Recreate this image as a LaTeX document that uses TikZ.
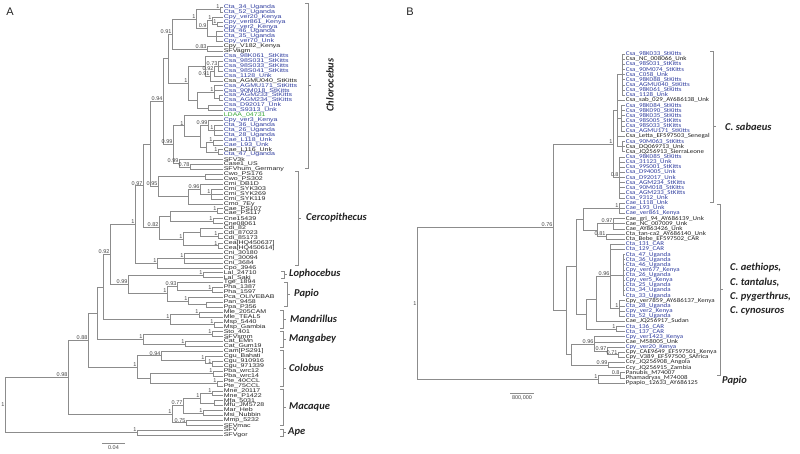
\documentclass[tikz,border=0pt]{standalone}
\usepackage{fontspec}
\setmainfont{Liberation Sans}
\newfontfamily\carl{Carlito}
\definecolor{cb}{RGB}{48,62,160}
\definecolor{ck}{RGB}{35,35,35}
\definecolor{cg}{RGB}{60,170,60}
\definecolor{ln}{RGB}{140,140,140}
\definecolor{sl}{RGB}{70,70,70}
\newcommand\ed[2]{\foreach \q in {#2}{\draw[br] (#1) |- (\q);}}
\newcommand\sv[2]{\node[sup] (s-#1) at (#1) {#2};}
\newcommand\brk[4]{\draw[bk] (#2-3,#3) -- (#2,#3) -- (#2,#4) -- (#2-3,#4);
  \draw[bk] (#2,{(#3+#4)/2}) -- (#2+3,{(#3+#4)/2});}
\begin{document}
\begin{tikzpicture}[x=1pt,y=-1pt,
  declare function={ya(\n)=7+(\n-1)*4.92; yb(\n)=54+(\n-1)*5.14;},
  br/.style={draw=ln,line width=0.5pt},
  bk/.style={draw=ln,line width=0.6pt},
  leafA/.style={anchor=west,inner sep=0.6pt,font=\fontsize{5.4}{5.4}\selectfont},
  leafB/.style={anchor=west,inner sep=0.6pt,font=\carl\fontsize{5.9}{5.9}\selectfont},
  sup/.style={anchor=south east,inner sep=0.4pt,text=sl,font=\fontsize{5.5}{5.5}\selectfont},
  clade/.style={anchor=west,inner sep=0pt,text=ck,font=\carl\bfseries\itshape\fontsize{10.5}{14.3}\selectfont},
  ttl/.style={inner sep=0pt,text=ck,font=\fontsize{11}{11}\selectfont}]
\useasboundingbox (0,0) rectangle (800,454);
\fill[white] (0,0) rectangle (800,454);
% ---------------- Panel A leaves ----------------
\foreach \col/\lab [count=\i] in {cb/Cta\_34\_Uganda,cb/Cta\_52\_Uganda,cb/Cpy\_ver20\_Kenya,cb/Cpy\_ver861\_Kenya,cb/Cpy\_ver2\_Kenya,cb/Cta\_46\_Uganda,cb/Cta\_35\_Uganda,cb/Cpy\_ver70\_Unk,ck/Cpy\_V182\_Kenya,ck/SFVagm,
cb/Csa\_98K061\_StKitts,cb/Csa\_98S031\_StKitts,cb/Csa\_98S033\_StKitts,cb/Csa\_98S041\_StKitts,cb/Csa\_1128\_Unk,ck/Csa\_AGMU040\_StKitts,cb/Csa\_AGMU171\_StKitts,cb/Csa\_90M018\_StKitts,cb/Csa\_AGM233\_StKitts,cb/Csa\_AGM234\_StKitts,
cb/Csa\_D92017\_Unk,cb/Csa\_S9313\_Unk,cg/LDAA\_04731,cb/Cpy\_ver3\_Kenya,cb/Cta\_36\_Uganda,cb/Cta\_26\_Uganda,cb/Cta\_28\_Uganda,cb/Cae\_L118\_Unk,cb/Cae\_L93\_Unk,ck/Cae\_L116\_Unk,
cb/Cta\_47\_Uganda,ck/SFV3k,ck/Case1\_US,ck/SFVhum\_Germany,ck/Cwo\_PS176,ck/Cwo\_PS302,ck/Cmi\_DB1D,ck/Cmi\_SYK303,ck/Cmi\_SYK269,ck/Cmi\_SYK119,
ck/Cmo\_7Ey,ck/Cae\_PS107,ck/Cae\_PS117,ck/Cne15439,ck/Cne08061,ck/Cdi\_82,ck/Cdi\_87023,ck/Cdi\_85173,ck/{Cea[HQ450637]},ck/{Cea[HQ450614]},
ck/Cni\_30180,ck/Cni\_30094,ck/Cni\_3684,ck/Cpo\_3946,ck/Lal\_24710,ck/Lal\_Saki,ck/Tge\_1894,ck/Pha\_1387,ck/Pha\_1597,ck/Pca\_OLIVEBAB,
ck/Pan\_9458,ck/Ppa\_P356,ck/Mle\_205CAM,ck/Mle\_TEAL5,ck/Msp\_5440,ck/Msp\_Gambia,ck/Sto\_401,ck/SFVsmm,ck/Cat\_EMn,ck/Cat\_Gum19,
ck/{Cam[PS291]},ck/Cgu\_Bahati,ck/Cgu\_910916,ck/Cgu\_971339,ck/Pba\_wrc12,ck/Pba\_wrc14,ck/Pte\_40CCL,ck/Pte\_75CCL,ck/Mne\_20117,ck/Mne\_P1422,
ck/Mfa\_5031,ck/Mfu\_JM5728,ck/Mar\_Heb,ck/Msi\_Nubbin,ck/Mmp\_5232,ck/SFVmac,ck/SFV,ck/SFVgor}
{\coordinate (a\i) at (223,{ya(\i)}); \node[leafA,text=\col] (la\i) at (a\i) {\scalebox{1.3}[1]{\lab}};}
% ---------------- Panel A internal nodes ----------------
\foreach \nm/\xx/\ii in {rootA/5/81.86,N098/68/76.22,Ape/137/87.5,N088/88/68.69,Mac/172/83.75,N077/183/82,M1/200/80.5,M1a/212/79.5,M1b/214/81.5,M2/203/83.5,
N075/186/85.5,P/97/63.19,Col/137/74.19,N094/161/71.875,Cgu/205/72.75,CguB/212/73.5,Col2/150/76.5,Pba/213/75.5,Pte/217/77.5,Q/103/57.885,
Mang/143/68.5,MgA/212/67.5,MgB/185/69.5,N092/110/51.27,Mand/170/64.5,MleN/199/63.5,MspN/214/65.5,S/135/45.165,N099/128/57.375,Lopho/203/55.5,
Pap/167/59.25,N093/177/57.75,PhaN/212/58.5,PcaN/188/60.75,PanN/206/61.5,N097/143/37.33,CniN/157/53,CniA/184/52,K/150/28.85,N082/159/45.8125,
N082a/170/43.5,CaeN/217/42.5,CneN/213/44.5,CdiN/183/48.125,CdiA/200/46.75,CdiB/218/47.5,CeaN/218/49.5,Chl/163/20.195,N095/158/37.5,CwoN/205/35.5,
CmiN/188/39.5,CmiA/200/38,CmiB/211/39,ChA/168/11.453,ChA1/172/6.46875,N083/207/9.5,G1/196/3.4375,G1a/220/1.5,G1c/207/5.375,G1d/212/3.75,
G1d2/217/4.5,G1e/216/7,G2/188/16.4375,G2top/205/13,G2a/210/15,G2c/214/14,G2d/218/13,G2b/197/19.875,G2e/214/18.25,G2g/219/19.5,
G2f/208/21.5,ChB/173/28.9375,ChB1/184/25.125,G3/200/27.25,G3a/208/25,G3c/214/26,G3b/206/29.5,G3d/213/28.5,G3e/218/30.5,ChB2/179/32.75,ChB3/190/33.5}
{\coordinate (\nm) at (\xx,{ya(\ii)});}
% ---------------- Panel A edges ----------------
\ed{rootA}{N098,Ape}\ed{Ape}{a87,a88}\ed{N098}{N088,Mac}\ed{Mac}{N077,N075}\ed{N077}{M1,M2}
\ed{M1}{M1a,M1b}\ed{M1a}{a79,a80}\ed{M1b}{a81,a82}\ed{M2}{a83,a84}\ed{N075}{a85,a86}
\ed{N088}{P,Col}\ed{Col}{N094,Col2}\ed{N094}{a71,Cgu}\ed{Cgu}{a72,CguB}\ed{CguB}{a73,a74}
\ed{Col2}{Pba,Pte}\ed{Pba}{a75,a76}\ed{Pte}{a77,a78}\ed{P}{Q,Mang}\ed{Mang}{MgA,MgB}
\ed{MgA}{a67,a68}\ed{MgB}{a69,a70}\ed{Q}{N092,Mand}\ed{Mand}{MleN,MspN}\ed{MleN}{a63,a64}
\ed{MspN}{a65,a66}\ed{N092}{S,N099}\ed{N099}{Lopho,Pap}\ed{Lopho}{a55,a56}\ed{Pap}{N093,PcaN}
\ed{N093}{a57,PhaN}\ed{PhaN}{a58,a59}\ed{PcaN}{a60,PanN}\ed{PanN}{a61,a62}\ed{S}{N097,CniN}
\ed{CniN}{CniA,a54}\ed{CniA}{a51,a52,a53}\ed{N097}{K,N082}\ed{N082}{N082a,CdiN}\ed{N082a}{CaeN,CneN}
\ed{CaeN}{a42,a43}\ed{CneN}{a44,a45}\ed{CdiN}{CdiA,CeaN}\ed{CdiA}{a46,CdiB}\ed{CdiB}{a47,a48}
\ed{CeaN}{a49,a50}\ed{K}{Chl,N095}\ed{N095}{CwoN,CmiN}\ed{CwoN}{a35,a36}\ed{CmiN}{CmiA,a41}
\ed{CmiA}{a37,CmiB}\ed{CmiB}{a38,a39,a40}\ed{Chl}{ChA,ChB}\ed{ChA}{ChA1,G2}\ed{ChA1}{G1,N083}
\ed{N083}{a9,a10}\ed{G1}{G1a,G1c}\ed{G1a}{a1,a2}\ed{G1c}{G1d,G1e}\ed{G1d}{a3,G1d2}
\ed{G1d2}{a4,a5}\ed{G1e}{a6,a7,a8}\ed{G2}{G2top,G2b}\ed{G2top}{a11,G2a}\ed{G2a}{G2c,a16}
\ed{G2c}{G2d,a15}\ed{G2d}{a12,a13,a14}\ed{G2b}{G2e,G2f}\ed{G2e}{a17,a18,G2g}\ed{G2g}{a19,a20}
\ed{G2f}{a21,a22}\ed{ChB}{ChB1,ChB2}\ed{ChB1}{a23,G3}\ed{G3}{G3a,G3b}\ed{G3a}{a24,G3c}
\ed{G3c}{a25,a26,a27}\ed{G3b}{G3d,G3e}\ed{G3d}{a28,a29}\ed{G3e}{a30,a31}\ed{ChB2}{a32,ChB3}\ed{ChB3}{a33,a34}
% ---------------- Panel A support values ----------------
\node[sup,anchor=east] (s-rootA) at (rootA) {1};
\sv{N098}{0.98}\sv{N088}{0.88}\sv{N092}{0.92}\sv{S}{1}\sv{N097}{0.97}\sv{Chl}{0.94}\sv{ChA1}{0.91}
\sv{G1}{1}\sv{G1c}{0.9}\sv{G1d}{1}\sv{G1d2}{1}\sv{G1a}{1}\sv{N083}{0.83}\sv{G2}{1}\sv{G2d}{0.73}
\sv{G2c}{0.92}\sv{G2a}{0.91}\sv{G2e}{1}\sv{G3a}{0.99}\sv{G3c}{1}\sv{G3d}{1}\sv{G3e}{1}\sv{ChB}{0.99}
\sv{ChB1}{1}\sv{ChB2}{0.99}\sv{ChB3}{0.78}\sv{N095}{0.95}\sv{CmiA}{0.96}\sv{CmiB}{1}\sv{CaeN}{1}
\sv{CneN}{1}\sv{N082}{0.82}\sv{CdiN}{1}\sv{CdiB}{1}\sv{CeaN}{1}\sv{CniN}{1}\sv{CniA}{1}\sv{N099}{0.99}
\sv{Lopho}{1}\sv{Pap}{1}\sv{N093}{0.93}\sv{PhaN}{1}\sv{PcaN}{1}\sv{Mand}{1}\sv{MleN}{1}\sv{MspN}{1}
\sv{Mang}{1}\sv{MgA}{1}\sv{MgB}{1}\sv{Col}{1}\sv{N094}{0.94}\sv{Cgu}{1}\sv{CguB}{1}\sv{Pba}{1}\sv{Pte}{1}
\sv{Mac}{1}\sv{N077}{0.77}\sv{N075}{0.75}\sv{M1}{1}\sv{M1a}{1}\sv{M2}{1}\sv{Ape}{1}
% ---------------- Panel A scale and clades ----------------
\coordinate (sa1) at (102,443); \coordinate (sa2) at (125,443);
\draw[br] (sa1) -- (sa2);
\node[sup,anchor=north] (sA) at (113.5,445) {0.04};
\node[ttl] (tA) at (10,12) {A};
\brk{kChl}{308}{3}{168}
\node[clade,anchor=center,rotate=90] (cChl) at (330,85) {Chlorocebus};
\brk{kCer}{298}{171}{265}
\node[clade] (cCer) at (306,218) {Cercopithecus};
\brk{kLop}{284}{271}{278}
\node[clade] (cLop) at (289,274) {Lophocebus};
\brk{kPap}{287}{282}{306}
\node[clade] (cPap) at (294,294) {Papio};
\brk{kMan}{283}{310}{328}
\node[clade] (cMan) at (290,319) {Mandrillus};
\brk{kMgb}{283}{331}{347}
\node[clade] (cMgb) at (289,339) {Mangabey};
\brk{kCol}{283}{350}{386}
\node[clade] (cCol) at (289,368) {Colobus};
\brk{kMac}{283}{389}{425}
\node[clade] (cMac) at (289,407) {Macaque};
\brk{kApe}{283}{429}{436}
\node[clade] (cApe) at (288,432) {Ape};
% ---------------- Panel B leaves ----------------
\foreach \col/\lab [count=\i] in {cb/Csa\_98K033\_StKitts,ck/Csa\_NC\_008066\_Unk,cb/Csa\_98S031\_StKitts,cb/Csa\_90M074\_StKitts,cb/Csa\_C058\_Unk,cb/Csa\_98K088\_StKitts,cb/Csa\_AGMU040\_StKitts,cb/Csa\_98K061\_StKitts,cb/Csa\_1128\_Unk,ck/Csa\_sab\_029\_AY686138\_Unk,
cb/Csa\_98K084\_StKitts,cb/Csa\_98K090\_StKitts,cb/Csa\_98K035\_StKitts,cb/Csa\_98S005\_StKitts,cb/Csa\_98S033\_StKitts,cb/Csa\_AGMU171\_StKitts,ck/Csa\_Letta\_EF597503\_Senegal,cb/Csa\_90M063\_StKitts,ck/Csa\_DQ069713\_Unk,ck/Csa\_JQ256913\_SierraLeone,
cb/Csa\_98K085\_StKitts,cb/Csa\_31123\_Unk,cb/Csa\_99S001\_StKitts,cb/Csa\_D94005\_Unk,cb/Csa\_D92017\_Unk,cb/Csa\_AGM234\_StKitts,cb/Csa\_90M018\_StKitts,cb/Csa\_AGM233\_StKitts,cb/Csa\_9312\_Unk,cb/Cae\_L118\_Unk,
cb/Cae\_L93\_Unk,cb/Cae\_ver861\_Kenya,ck/Cae\_gri\_94\_AY686139\_Unk,ck/Cae\_NC\_007009\_Unk,ck/Cae\_AY863426\_Unk,ck/Cta\_tan-ca2\_AY686140\_Unk,ck/Cta\_Bebe\_EF597502\_CAR,cb/Cta\_131\_CAR,cb/Cta\_129\_CAR,cb/Cta\_47\_Uganda,
cb/Cta\_36\_Uganda,cb/Cta\_46\_Uganda,cb/Cpy\_ver677\_Kenya,cb/Cta\_26\_Uganda,cb/Cpy\_ver5\_Kenya,cb/Cta\_25\_Uganda,cb/Cta\_34\_Uganda,cb/Cta\_33\_Uganda,ck/Cpy\_ver7859\_AY686137\_Kenya,cb/Cta\_28\_Uganda,
cb/Cpy\_ver2\_Kenya,cb/Cta\_52\_Uganda,ck/Cae\_JQ256917\_Sudan,cb/Cta\_136\_CAR,cb/Cta\_137\_CAR,cb/Cpy\_ver1423\_Kenya,ck/Cae\_M58005\_Unk,cb/Cpy\_ver20\_Kenya,ck/Cpy\_CAE9649\_EF597501\_Kenya,ck/Cpy\_V389\_EF597500\_SAfrica,
ck/Ccy\_JQ256908\_Angola,ck/Ccy\_JQ256915\_Zambia,ck/Panubis\_M74007,ck/Phamadryas\_M74008,ck/Ppapio\_12633\_AY686125}
{\coordinate (b\i) at (625,{yb(\i)}); \node[leafB,text=\col] (lb\i) at (b\i) {\scalebox{1.18}[1]{\lab}};}
% ---------------- Panel B internal nodes ----------------
\foreach \nm/\xx/\ii in {RB/417/49.47,N076/553/34.70,PapB/598/64.25,N08p/620/63.5,SAB/613/18.5,SA1/617/12,SA1a/622/5,SA1b/621/13.5,SA1c/622/19,SA2/619/25,
AET/566/50.89,X1/576/42.34,X1a/583/33.125,C1/619/31,X1c/597/35.25,C2/613/34,C3/606/36.5,X1b/586/51.56,C4p/596/48.625,C4/610/44.25,
C4a/623/44,C4b/619/50.5,C6/616/54.5,X2/571/59.44,N096b/594/57.375,N097b/607/58.75,N071/618/59.5,N099b/608/61.5}
{\coordinate (\nm) at (\xx,{yb(\ii)});}
% ---------------- Panel B edges ----------------
\ed{RB}{N076,PapB}\ed{PapB}{N08p,b65}\ed{N08p}{b63,b64}\ed{N076}{SAB,AET}\ed{SAB}{SA1,SA2}
\ed{SA1}{SA1a,b10,SA1b,b17,SA1c}\ed{SA1a}{b1,b2,b3,b4,b5,b6,b7,b8,b9}\ed{SA1b}{b11,b12,b13,b14,b15,b16}
\ed{SA1c}{b18,b19,b20}\ed{SA2}{b21,b22,b23,b24,b25,b26,b27,b28,b29}\ed{AET}{X1,X2}\ed{X1}{X1a,X1b}
\ed{X1a}{C1,X1c}\ed{C1}{b30,b31,b32}\ed{X1c}{C2,C3}\ed{C2}{b33,b34,b35}\ed{C3}{b36,b37}
\ed{X1b}{C4p,C6}\ed{C4p}{C4,b53}\ed{C4}{b38,b39,C4a,C4b}\ed{C4a}{b40,b41,b42,b43,b44,b45,b46,b47,b48}
\ed{C4b}{b49,b50,b51,b52}\ed{C6}{b54,b55}\ed{X2}{N096b,N099b}\ed{N096b}{b56,b57,N097b}\ed{N097b}{b58,N071}
\ed{N071}{b59,b60}\ed{N099b}{b61,b62}
% ---------------- Panel B support values ----------------
\node[sup,anchor=east] (s-RB) at (RB) {1};
\sv{N076}{0.76}\sv{SAB}{1}\sv{SA2}{0.8}\sv{C1}{1}\sv{C2}{0.97}\sv{C3}{0.81}\sv{C4}{0.96}\sv{C4b}{1}
\sv{C6}{1}\sv{N096b}{0.96}\sv{N097b}{0.97}\sv{N071}{0.71}\sv{N099b}{0.99}\sv{N08p}{0.8}\sv{PapB}{1}
% ---------------- Panel B scale and clades ----------------
\coordinate (sb1) at (510,393); \coordinate (sb2) at (534,393);
\draw[br] (sb1) -- (sb2);
\node[sup,anchor=north] (sB) at (522,395) {800,000};
\node[ttl] (tB) at (410,12) {B};
\brk{kSab}{713}{51}{202}
\node[clade] (cSab) at (725,127) {C. sabaeus};
\brk{kAet}{720}{204}{375}
\node[clade,align=left] (cAet) at (730,289.5) {C. aethiops,\\C. tantalus,\\C. pygerthrus,\\C. cynosuros};
\node[clade] (cPapB) at (722,381) {Papio};
\end{tikzpicture}
\end{document}
